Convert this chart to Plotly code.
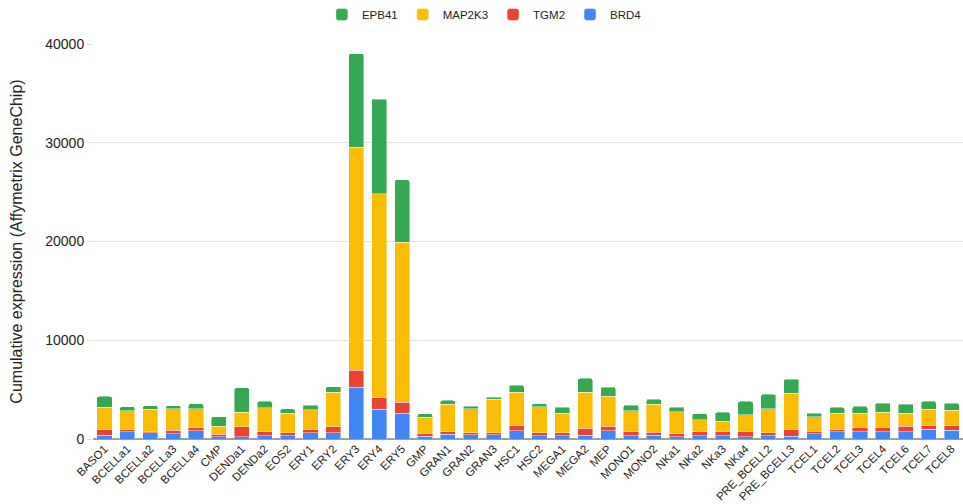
import plotly.graph_objects as go

cell_types = [
    "BASO1", "BCELLa1", "BCELLa2", "BCELLa3", "BCELLa4", "CMP", "DENDa1", "DENDa2",
    "EOS2", "ERY1", "ERY2", "ERY3", "ERY4", "ERY5", "GMP", "GRAN1", "GRAN2", "GRAN3",
    "HSC1", "HSC2", "MEGA1", "MEGA2", "MEP", "MONO1", "MONO2", "NKa1", "NKa2", "NKa3",
    "NKa4", "PRE_BCELL2", "PRE_BCELL3", "TCEL1", "TCEL2", "TCEL3", "TCEL4", "TCEL6",
    "TCEL7", "TCEL8",
]

brd4 = [400, 740, 640, 540, 840, 240, 240, 340,
        340, 610, 610, 5220, 3000, 2590, 300, 500, 440, 440,
        840, 340, 340, 400, 840, 340, 400, 240, 340, 340,
        240, 340, 300, 540, 710, 710, 710, 710,
        1010, 910]

tgm2 = [570, 240, 170, 340, 340, 240, 980, 370,
        270, 370, 610, 1750, 1180, 1110, 300, 300, 170, 170,
        540, 270, 270, 670, 470, 370, 300, 270, 370, 370,
        570, 270, 670, 270, 300, 470, 470, 570,
        370, 470]

map2k3 = [2260, 1890, 2190, 2190, 1890, 810, 1480, 2460,
          1990, 1990, 3500, 22560, 20640, 16230, 1580, 2730, 2460, 3440,
          3340, 2660, 1990, 3640, 3000, 2160, 2830, 2260, 1250, 1080,
          1650, 2430, 3640, 1450, 1620, 1450, 1550, 1350,
          1650, 1550]

epb41 = [1080, 400, 370, 300, 500, 980, 2490, 640,
         440, 470, 570, 9500, 9600, 6300, 370, 370, 270, 200,
         740, 300, 640, 1420, 940, 570, 500, 470, 610, 910,
         1350, 1480, 1450, 370, 570, 670, 910, 910,
         780, 710]

y_ticks = [0, 10000, 20000, 30000, 40000]

series = [
    ("BRD4", brd4, "#4285f4"),
    ("TGM2", tgm2, "#ea4335"),
    ("MAP2K3", map2k3, "#fbbc04"),
    ("EPB41", epb41, "#34a853"),
]

fig = go.Figure()
for name, values, color in series:
    fig.add_trace(go.Bar(
        x=cell_types, y=values, name=name,
        marker=dict(color=color, line=dict(width=0.6, color="rgba(255,255,255,0.7)")),
    ))

fig.update_layout(
    width=963, height=504,
    barmode="stack",
    bargap=0.34,
    barcornerradius=2,
    plot_bgcolor="white",
    paper_bgcolor="white",
    font=dict(family="Liberation Sans, Arial, sans-serif", color="#222222"),
    margin=dict(l=93, r=0, t=44, b=65),
    legend=dict(
        orientation="h", traceorder="reversed",
        xref="container", yref="container",
        x=0.503, xanchor="center", y=1.0, yanchor="top",
        font=dict(size=11.5, color="#222222"),
        itemwidth=30,
    ),
    xaxis=dict(
        tickangle=-45, tickfont=dict(size=11.5, color="#222222"),
        showgrid=False, showline=False, ticks="",
        automargin=False,
    ),
    yaxis=dict(
        range=[0, 40000], tickvals=y_ticks, tickformat="d",
        tickfont=dict(size=14, color="#222222"),
        showgrid=True, gridcolor="#e0e0e0", gridwidth=1,
        zeroline=True, zerolinecolor="#9e9e9e", zerolinewidth=1.5,
        ticks="outside", ticklen=5, tickcolor="#e0e0e0",
        title=dict(text="Cumulative expression (Affymetrix GeneChip)",
                   font=dict(size=16, color="#222222"), standoff=18),
        automargin=False,
    ),
)

fig.write_html("out.html")
